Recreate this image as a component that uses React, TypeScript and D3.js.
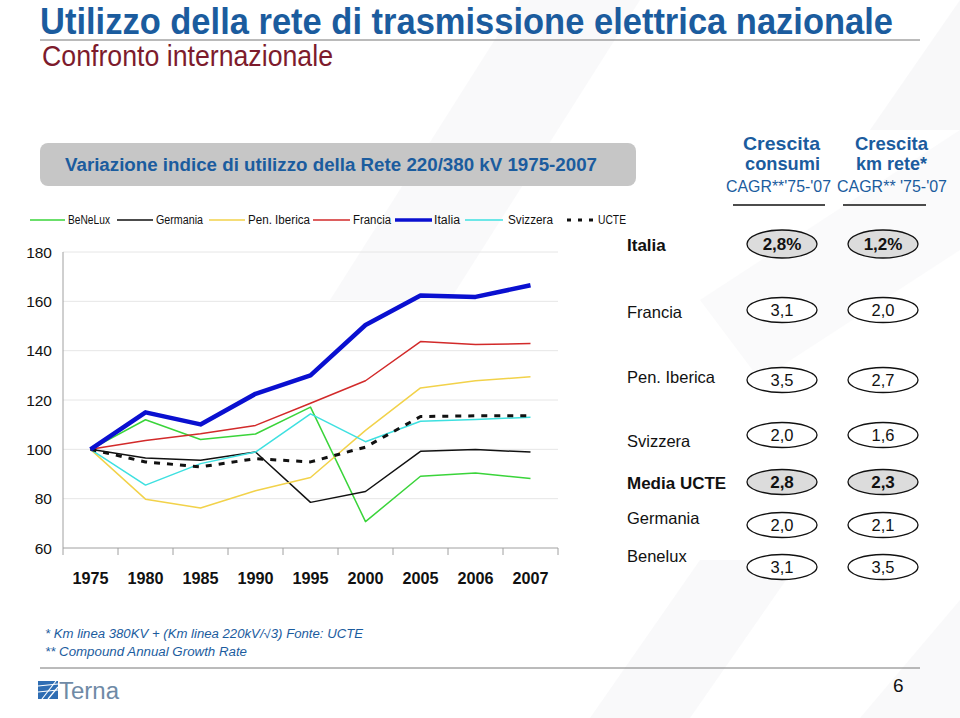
import React from "react";
import * as d3 from "d3";

const years = ["1975", "1980", "1985", "1990", "1995", "2000", "2005", "2006", "2007"];
const yTicks = [60, 80, 100, 120, 140, 160, 180];

const benelux = [100, 112, 104, 106.2, 117.1, 70.7, 89.1, 90.4, 88.2];
const germania = [100, 96.5, 95.6, 98.9, 78.5, 82.9, 99.2, 99.9, 98.9];
const penIberica = [100, 79.8, 76.2, 83.2, 88.6, 107.7, 124.9, 127.8, 129.4];
const francia = [100, 103.6, 106.3, 109.7, 118.7, 127.8, 143.7, 142.5, 142.9];
const italia = [100, 115.0, 110.1, 122.5, 130, 150.4, 162.4, 161.8, 166.5];
const svizzera = [100, 85.5, 94.2, 98.9, 114.4, 103.1, 111.4, 112.1, 113];
const ucte = [100, 94.9, 92.9, 96.2, 94.9, 100.9, 113.3, 113.6, 113.6];

const seriesNames = ["BeNeLux", "Germania", "Pen. Iberica", "Francia", "Italia", "Svizzera", "UCTE"];

const tableCountries = ["Italia", "Francia", "Pen. Iberica", "Svizzera", "Media UCTE", "Germania", "Benelux"];
const cagrConsumi = ["2,8%", "3,1", "3,5", "2,0", "2,8", "2,0", "3,1"];
const cagrKmRete = ["1,2%", "2,0", "2,7", "1,6", "2,3", "2,1", "3,5"];

const BLUE = "#1b5c9e";
const FONT = "'Liberation Sans', Arial, Helvetica, sans-serif";

export default function App() {
  const W = 960, H = 718;
  const x = d3.scaleBand<string>().domain(years).range([63, 558]);
  const y = d3.scaleLinear().domain([60, 180]).range([548, 252]);
  const bw = x.bandwidth();
  const cx = (i: number) => (x(years[i]) as number) + bw / 2;
  const line = d3.line<number>().x((_, i) => cx(i)).y((d) => y(d));

  const series = [
    { name: seriesNames[0], data: benelux, color: "#3ad43a", w: 1.5, dash: "" },
    { name: seriesNames[1], data: germania, color: "#111111", w: 1.5, dash: "" },
    { name: seriesNames[2], data: penIberica, color: "#f2d24a", w: 1.5, dash: "" },
    { name: seriesNames[3], data: francia, color: "#d22a2a", w: 1.5, dash: "" },
    { name: seriesNames[5], data: svizzera, color: "#3ee0e0", w: 1.5, dash: "" },
    { name: seriesNames[6], data: ucte, color: "#111111", w: 3, dash: "6,7" },
    { name: seriesNames[4], data: italia, color: "#0a10d0", w: 4.5, dash: "" },
  ];
  const legendSeries = [0, 1, 2, 3, 6, 4, 5].map((i) => series[i]);
  // legend layout: [lineStart, lineEnd, textStart, textWidth]
  const legendLayout = [
    [30, 65, 68, 42], [117, 153, 156, 47], [209, 245, 248, 62], [313, 350, 353, 38],
    [395, 432, 434, 26], [465, 503, 508, 45], [567, 597, 598, 28],
  ];

  const rowY = [244, 310, 380, 435, 482, 525, 567];
  const labelY = [245, 312, 377, 441, 483, 518, 556];
  const col1 = 782, col2 = 883;

  return (
    <svg width={W} height={H} viewBox={`0 0 ${W} ${H}`} style={{ position: "absolute", left: 0, top: 0, background: "#fff" }} fontFamily={FONT}>
      {/* watermark stripes */}
      <g fill="#f5f5f7">
        <polygon points="330,300 520,0 640,0 450,300" opacity={0.6} />
        <polygon points="870,130 960,0 960,130" opacity={0.7} />
        <polygon points="700,300 960,130 960,250 760,380" opacity={0.5} />
        <polygon points="590,718 700,560 800,560 690,718" opacity={0.6} />
        <polygon points="860,718 960,600 960,718" opacity={0.6} />
      </g>

      {/* title */}
      <text x={40} y={34} fontSize={36} fontWeight="bold" fill={BLUE} textLength={853} lengthAdjust="spacingAndGlyphs">
        Utilizzo della rete di trasmissione elettrica nazionale
      </text>
      <line x1={40} x2={920} y1={40} y2={40} stroke="#777" strokeWidth={1} />
      <text x={42} y={66} fontSize={29} fill="#7d1b2c" textLength={291} lengthAdjust="spacingAndGlyphs">
        Confronto internazionale
      </text>

      {/* gray box */}
      <rect x={40} y={143} width={596} height={43} rx={8} fill="#c6c6c6" />
      <text x={65} y={171} fontSize={18} fontWeight="bold" fill={BLUE} textLength={532} lengthAdjust="spacingAndGlyphs">
        Variazione indice di utilizzo della Rete 220/380 kV 1975-2007
      </text>

      {/* table header */}
      <g fill={BLUE}>
        <text x={743} y={150} fontSize={19} fontWeight="bold" textLength={77} lengthAdjust="spacingAndGlyphs">Crescita</text>
        <text x={745} y={170} fontSize={19} fontWeight="bold" textLength={75} lengthAdjust="spacingAndGlyphs">consumi</text>
        <text x={855} y={150} fontSize={19} fontWeight="bold" textLength={73} lengthAdjust="spacingAndGlyphs">Crescita</text>
        <text x={856} y={170} fontSize={19} fontWeight="bold" textLength={71} lengthAdjust="spacingAndGlyphs">km rete*</text>
        <text x={726} y={192} fontSize={16} textLength={105} lengthAdjust="spacingAndGlyphs">CAGR**'75-'07</text>
        <text x={837} y={192} fontSize={16} textLength={110} lengthAdjust="spacingAndGlyphs">CAGR** '75-'07</text>
      </g>
      <line x1={733} x2={825} y1={205} y2={205} stroke="#111" strokeWidth={1.5} />
      <line x1={843} x2={926} y1={205} y2={205} stroke="#111" strokeWidth={1.5} />

      {/* legend */}
      {legendSeries.map((s, i) => {
        const [a, b, t, tw] = legendLayout[i];
        return (
          <g key={s.name}>
            <line x1={a} x2={b} y1={220} y2={220} stroke={s.color} strokeWidth={s.name === "Italia" ? 3.5 : s.name === "UCTE" ? 3 : 1.3} strokeDasharray={s.name === "UCTE" ? "4,7" : undefined} />
            <text x={t} y={224} fontSize={12.5} fill="#111" textLength={tw} lengthAdjust="spacingAndGlyphs">{s.name}</text>
          </g>
        );
      })}

      {/* y grid */}
      {yTicks.map((t) => (
        <g key={t}>
          {t > 60 && <line x1={63} x2={558} y1={y(t)} y2={y(t)} stroke="#e6e6e6" strokeWidth={1} />}
          <text x={52} y={y(t) + 5.5} fontSize={15.5} textAnchor="end" fill="#111">{t}</text>
        </g>
      ))}
      <line x1={63} x2={63} y1={252} y2={548} stroke="#a0a0a0" strokeWidth={1} />
      <line x1={63} x2={558} y1={548} y2={548} stroke="#a0a0a0" strokeWidth={1} />
      {years.map((yr) => (
        <line key={yr} x1={x(yr) as number} x2={x(yr) as number} y1={548} y2={555} stroke="#a0a0a0" />
      ))}
      <line x1={558} x2={558} y1={548} y2={555} stroke="#a0a0a0" />
      {years.map((yr, i) => (
        <text key={yr} x={cx(i)} y={584} fontSize={16} fontWeight="bold" textAnchor="middle" fill="#111" textLength={36} lengthAdjust="spacingAndGlyphs">{yr}</text>
      ))}

      {/* lines */}
      {series.map((s) => (
        <path key={s.name} d={line(s.data) as string} fill="none" stroke={s.color} strokeWidth={s.w} strokeDasharray={s.dash || undefined} strokeLinejoin="round" />
      ))}

      {/* table rows */}
      {tableCountries.map((c, i) => {
        const bold = i === 0 || i === 4;
        const filled = bold;
        return (
          <g key={c}>
            <text x={627} y={labelY[i] + 6} fontSize={bold ? 17 : 16.5} fontWeight={bold ? "bold" : "normal"} fill="#111">{c}</text>
            {[col1, col2].map((ex, j) => (
              <g key={j}>
                <ellipse cx={ex} cy={rowY[i]} rx={35} ry={i === 0 ? 14 : 12.5} fill={filled ? "#dcdcdc" : "#fff"} stroke="#111" strokeWidth={1.3} />
                <text x={ex} y={rowY[i] + 6} fontSize={bold ? 17 : 16.5} fontWeight={bold ? "bold" : "normal"} textAnchor="middle" fill="#111">
                  {j === 0 ? cagrConsumi[i] : cagrKmRete[i]}
                </text>
              </g>
            ))}
          </g>
        );
      })}

      {/* footnotes */}
      <g fill={BLUE} fontStyle="italic" fontSize={12}>
        <text x={45} y={638} textLength={318} lengthAdjust="spacingAndGlyphs">* Km linea 380KV + (Km linea 220kV/√3)  Fonte: UCTE</text>
        <text x={45} y={656} textLength={202} lengthAdjust="spacingAndGlyphs">** Compound Annual Growth Rate</text>
      </g>
      <line x1={40} x2={920} y1={668} y2={668} stroke="#777" strokeWidth={1} />

      {/* logo */}
      <g>
        <rect x={38} y={681} width={20} height={18} fill="#2f6db3" />
        <g stroke="#fff" strokeWidth={1.2}>
          <line x1={38} y1={686} x2={58} y2={684} />
          <line x1={38} y1={692} x2={58} y2={690} />
          <line x1={42} y1={699} x2={56} y2={681} />
          <line x1={48} y1={699} x2={58} y2={687} />
        </g>
        <text x={59} y={699} fontSize={23} fill="#6f8aa6" textLength={60} lengthAdjust="spacingAndGlyphs">Terna</text>
      </g>
      <text x={893} y={692} fontSize={19} fill="#111">6</text>
    </svg>
  );
}
